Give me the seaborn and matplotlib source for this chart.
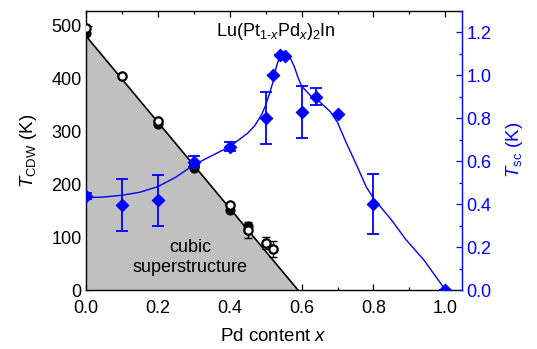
import matplotlib
matplotlib.use("Agg")
import matplotlib.pyplot as plt
from matplotlib.ticker import MultipleLocator, FormatStrFormatter
import seaborn as sns

# ---- data ----
cdw_open_x = [0.0, 0.1, 0.2, 0.3, 0.4, 0.45, 0.5, 0.52]
cdw_open_y = [495, 405, 319, 236, 161, 113, 89, 77]
cdw_open_err = [0, 0, 0, 0, 0, 15, 12, 15]
cdw_fill_x = [0.0, 0.2, 0.3, 0.4, 0.45]
cdw_fill_y = [486, 314, 231, 151, 121]
cdw_line_x = [0.0, 0.59]
cdw_line_y = [481, 0]

tsc_x = [0.0, 0.1, 0.2, 0.3, 0.4, 0.5, 0.52, 0.54, 0.555, 0.6, 0.64, 0.7, 0.8, 1.0]
tsc_y = [0.437, 0.396, 0.417, 0.597, 0.667, 0.80, 1.0, 1.094, 1.088, 0.83, 0.90, 0.818, 0.40, 0.0]
tsc_err = [0.015, 0.12, 0.12, 0.025, 0.02, 0.12, 0.0, 0.0, 0.0, 0.12, 0.04, 0.0, 0.14, 0.0]

tsc_curve_x = [0.0, 0.05, 0.1, 0.15, 0.2, 0.25, 0.3, 0.35, 0.4, 0.45, 0.47, 0.49,
               0.50, 0.51, 0.52, 0.53, 0.54, 0.55, 0.56, 0.57, 0.58, 0.59, 0.60,
               0.625, 0.65, 0.68, 0.70, 0.725, 0.755, 0.78, 0.80, 0.85, 0.89, 0.94, 1.0]
tsc_curve_y = [0.430, 0.433, 0.441, 0.455, 0.481, 0.525, 0.582, 0.625, 0.667, 0.73, 0.765, 0.82,
               0.86, 0.91, 0.965, 1.04, 1.09, 1.108, 1.10, 1.075, 1.04, 0.99, 0.95,
               0.905, 0.877, 0.83, 0.78, 0.683, 0.574, 0.48, 0.427, 0.326, 0.235, 0.14, 0.0]

sns.set_theme(style="ticks")
plt.rcParams['font.family'] = ['Liberation Sans', 'DejaVu Sans']
plt.rcParams['mathtext.fontset'] = 'custom'
plt.rcParams['mathtext.rm'] = 'Liberation Sans'
plt.rcParams['mathtext.it'] = 'Liberation Sans:italic'
plt.rcParams['mathtext.bf'] = 'Liberation Sans:bold'
plt.rcParams['text.color'] = 'black'
plt.rcParams['axes.labelcolor'] = 'black'
plt.rcParams['xtick.color'] = 'black'
plt.rcParams['ytick.color'] = 'black'

FS = 13
LFS = 13.5
BLUE = '#0000ff'

fig = plt.figure(figsize=(5.37, 3.49), dpi=100)
ax = fig.add_axes([0.1596, 0.169, 0.7007, 0.800])
ax2 = ax.twinx()

# CDW shaded region and line
ax.fill_between(cdw_line_x, cdw_line_y, 0, color='#c0c0c0', linewidth=0, zorder=1)
sns.lineplot(x=cdw_line_x, y=cdw_line_y, ax=ax, color='black', linewidth=1.2, zorder=2)

# CDW points
ax.errorbar(cdw_open_x, cdw_open_y, yerr=cdw_open_err, fmt='none', ecolor='black',
            elinewidth=1.0, capsize=3, capthick=1.0, zorder=3)
sns.scatterplot(x=cdw_fill_x, y=cdw_fill_y, ax=ax, marker='o', s=36, color='black',
                edgecolor='black', linewidth=1.3, zorder=4)
sns.scatterplot(x=cdw_open_x, y=cdw_open_y, ax=ax, marker='o', s=36, color='white',
                edgecolor='black', linewidth=1.6, zorder=5)

# Tsc
sns.lineplot(x=tsc_curve_x, y=tsc_curve_y, ax=ax2, color=BLUE, linewidth=1.0, zorder=2)
ax2.errorbar(tsc_x, tsc_y, yerr=tsc_err, fmt='none', ecolor=BLUE, elinewidth=1.3,
             capsize=4, capthick=1.3, zorder=3)
sns.scatterplot(x=tsc_x, y=tsc_y, ax=ax2, marker='D', s=40, color=BLUE,
                edgecolor=BLUE, linewidth=0.8, zorder=4)

# axes limits and ticks
ax.set_xlim(0, 1.046)
ax.set_ylim(0, 528)
ax2.set_ylim(0, 1.3)
ax.xaxis.set_major_locator(MultipleLocator(0.2))
ax.xaxis.set_minor_locator(MultipleLocator(0.1))
ax.yaxis.set_major_locator(MultipleLocator(100))
ax.yaxis.set_minor_locator(MultipleLocator(50))
ax2.yaxis.set_major_locator(MultipleLocator(0.2))
ax2.yaxis.set_minor_locator(MultipleLocator(0.1))
ax.xaxis.set_major_formatter(FormatStrFormatter('%.1f'))
ax2.yaxis.set_major_formatter(FormatStrFormatter('%.1f'))

ax.tick_params(which='both', direction='in', top=True, right=False, labelsize=FS,
               colors='black', width=0.9)
ax.tick_params(which='major', length=4, pad=3)
ax.tick_params(which='minor', length=2.2)
ax.tick_params(axis='x', which='major', pad=7)
ax2.tick_params(which='both', direction='in', right=True, left=False, labelsize=FS,
                colors=BLUE, width=0.9)
ax2.tick_params(which='major', length=4, pad=3)
ax2.tick_params(which='minor', length=2.2)

for sp in ['left', 'bottom', 'top']:
    ax.spines[sp].set_color('black')
    ax.spines[sp].set_linewidth(1.0)
ax.spines['right'].set_visible(False)
ax2.spines['right'].set_color(BLUE)
ax2.spines['right'].set_linewidth(1.0)
for sp in ['left', 'bottom', 'top']:
    ax2.spines[sp].set_visible(False)

ax.set_xlabel(r'Pd content $x$', fontsize=LFS, labelpad=8, color='black')
ax.set_ylabel(r'$T_{\mathrm{CDW}}$ (K)', fontsize=LFS, labelpad=9, color='black')
ax2.set_ylabel(r'$T_{\mathrm{sc}}$ (K)', fontsize=LFS, color=BLUE, labelpad=9)

ax.text(0.528, 489, r'Lu(Pt$_{\mathrm{1\text{-}}x}$Pd$_{x}$)$_{\mathrm{2}}$In',
        fontsize=FS, ha='center', va='center', color='black')
ax.text(0.29, 62, 'cubic\nsuperstructure', fontsize=FS, ha='center', va='center',
        linespacing=1.2, color='black')

ax2.set_zorder(ax.get_zorder() + 1)
ax.patch.set_visible(True)
ax2.patch.set_visible(False)

fig.savefig('out.png', dpi=100)
